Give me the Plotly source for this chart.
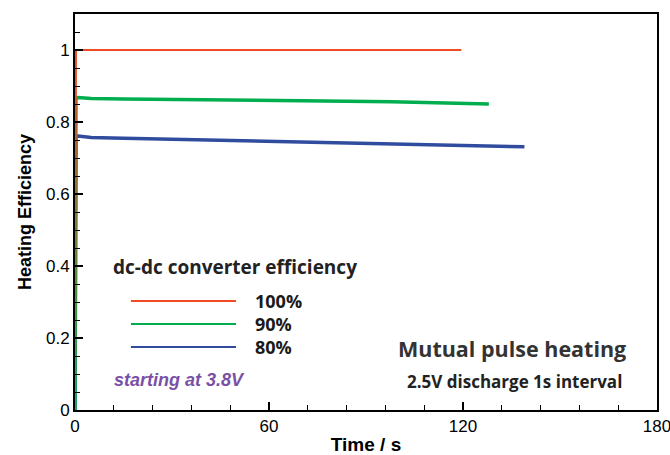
import plotly.graph_objects as go

# ---- data ----
series_names = ["100%", "90%", "80%"]
series_colors = ["#f04b23", "#00ad4f", "#2f4c9f"]

t_100 = [0, 0.3, 119.5]
eff_100 = [0.0, 1.0, 1.0]

t_90 = [0, 0.3, 1, 5, 15, 30, 48, 70, 98, 115, 128]
eff_90 = [0.0, 0.866, 0.868, 0.865, 0.864, 0.862, 0.861, 0.859, 0.856, 0.853, 0.850]

t_80 = [0, 0.3, 1, 5, 15, 30, 48, 70, 96, 115, 139]
eff_80 = [0.0, 0.759, 0.761, 0.757, 0.755, 0.752, 0.750, 0.746, 0.740, 0.736, 0.731]

x_ticks = [0, 60, 120, 180]
y_ticks = [0, 0.2, 0.4, 0.6, 0.8, 1.0]
y_tick_labels = ["0", "0.2", "0.4", "0.6", "0.8", "1"]

legend_title = "dc-dc converter efficiency"
note_start = "starting at 3.8V"
note_title = "Mutual pulse heating"
note_sub = "2.5V discharge 1s interval"

fig = go.Figure()
all_t = [t_80, t_90, t_100]
all_e = [eff_80, eff_90, eff_100]
order = [2, 1, 0]
widths = [2.0, 3.5, 3.5]
for k, i in enumerate(order):
    fig.add_trace(go.Scatter(x=all_t[k], y=all_e[k], mode="lines",
                             line=dict(color=series_colors[i], width=widths[i]),
                             name=series_names[i], showlegend=False))

# legend keys drawn in data coordinates
key_x0, key_x1, label_x = 17.3, 49.8, 55.0
key_y = [0.303, 0.239, 0.175]
shapes = []
annotations = []
for i in range(3):
    shapes.append(dict(type="line", xref="x", yref="y", x0=key_x0, x1=key_x1,
                       y0=key_y[i], y1=key_y[i],
                       line=dict(color=series_colors[i], width=2)))
    annotations.append(dict(x=label_x, y=key_y[i], xref="x", yref="y",
                            text="<b>" + series_names[i] + "</b>", showarrow=False,
                            xanchor="left", yanchor="middle",
                            font=dict(family="Open Sans", size=18, color="#1a1a1a")))

annotations += [
    dict(x=11.0, y=0.397, xref="x", yref="y", text="<b>" + legend_title + "</b>",
         showarrow=False, xanchor="left", yanchor="middle",
         font=dict(family="Open Sans", size=19, color="#222222")),
    dict(x=11.4, y=0.083, xref="x", yref="y", text="<b><i>" + note_start + "</i></b>",
         showarrow=False, xanchor="left", yanchor="middle",
         font=dict(family="Liberation Sans", size=18, color="#7a50a6")),
    dict(x=135.3, y=0.172, xref="x", yref="y", text="<b>" + note_title + "</b>",
         showarrow=False, xanchor="center", yanchor="middle",
         font=dict(family="Open Sans", size=21.5, color="#333333")),
    dict(x=135.8, y=0.078, xref="x", yref="y", text="<b>" + note_sub + "</b>",
         showarrow=False, xanchor="center", yanchor="middle",
         font=dict(family="Open Sans", size=17, color="#222222")),
]

axis_common = dict(showgrid=False, zeroline=False, showline=True, linecolor="black",
                   linewidth=2, mirror=True, ticks="inside", ticklen=8, tickwidth=2,
                   tickcolor="black", automargin=False, ticklabeloverflow="allow",
                   tickfont=dict(family="Liberation Sans", size=17, color="black"))

fig.update_layout(
    width=670, height=455,
    margin=dict(l=75, r=13, t=14, b=45),
    paper_bgcolor="white", plot_bgcolor="white",
    shapes=shapes, annotations=annotations,
    xaxis=dict(range=[0, 180], tickvals=x_ticks, ticktext=[str(v) for v in x_ticks],
               minor=dict(dtick=12, ticks="inside", ticklen=5, tickwidth=1.2, tickcolor="black"),
               title=dict(text="<b>Time / s</b>", standoff=2,
                          font=dict(family="Liberation Sans", size=19, color="black")),
               **axis_common),
    yaxis=dict(range=[0, 1.1], tickvals=y_ticks, ticktext=y_tick_labels,
               minor=dict(dtick=0.05, ticks="inside", ticklen=5, tickwidth=1.2, tickcolor="black"),
               title=dict(text="<b>Heating Efficiency</b>", standoff=10,
                          font=dict(family="Liberation Sans", size=18, color="black")),
               **axis_common),
)

fig.write_html("out.html", config={"displayModeBar": False},
               post_script="document.body.style.margin='0';document.body.style.overflow='hidden';")
